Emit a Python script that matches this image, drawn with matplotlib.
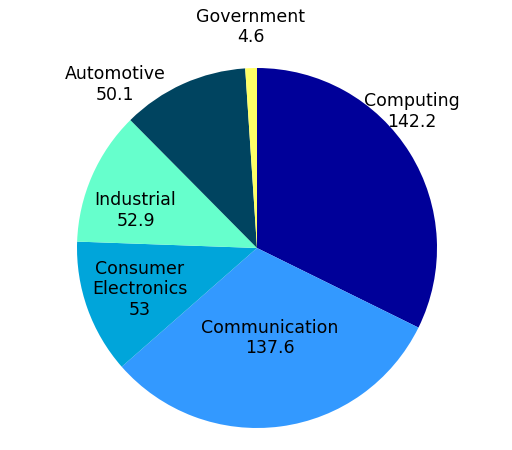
import matplotlib
matplotlib.use("Agg")
import matplotlib.pyplot as plt

categories = ["Computing", "Communication", "Consumer\nElectronics", "Industrial", "Automotive", "Government"]
values = [142.2, 137.6, 53, 52.9, 50.1, 4.6]
value_labels = ["142.2", "137.6", "53", "52.9", "50.1", "4.6"]
colors = ["#000099", "#3399FF", "#00A5DA", "#66FFCC", "#004460", "#FFFF66"]
# label anchor positions (in pie-radius units, relative to centre)
label_pos = [(0.86, 0.76), (0.07, -0.50), (-0.65, -0.23), (-0.675, 0.21), (-0.79, 0.91), (-0.035, 1.228)]

fig = plt.figure(figsize=(5.12, 4.5), dpi=100)
ax = fig.add_axes([0, 0, 1, 1])
ax.pie(values, colors=colors, startangle=90, counterclock=False,
       radius=1.0, center=(0, 0), wedgeprops=dict(linewidth=0))
ax.set_aspect("auto")
ax.set_xlim(-257 / 180, (512 - 257) / 180)
ax.set_ylim(-(450 - 248) / 180, 248 / 180)
ax.axis("off")

for cat, val, (x, y) in zip(categories, value_labels, label_pos):
    ax.text(x, y, f"{cat}\n{val}", ha="center", va="center", fontsize=12.5,
            family="DejaVu Sans", color="black", linespacing=1.2)

fig.savefig("out.png", dpi=100)
